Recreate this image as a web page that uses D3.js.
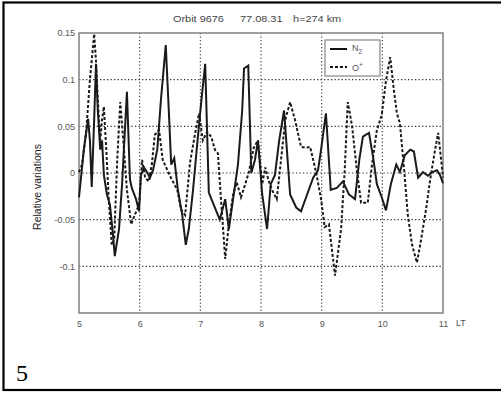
<!DOCTYPE html>
<html>
<head>
<meta charset="utf-8">
<script src="https://cdn.jsdelivr.net/npm/d3@7"></script>
<style>
  body { margin: 0; background: #fff; }
  svg { display: block; }
  .tick text { font-family: "Liberation Sans", Arial, sans-serif; fill: #555; }
</style>
</head>
<body>
<div id="chart"></div>
<script>
// data
const n2LT = [5.00,5.08,5.15,5.18,5.21,5.25,5.28,5.31,5.35,5.38,5.41,5.46,5.51,5.56,5.59,5.66,5.71,5.74,5.79,5.84,
  5.87,5.94,5.99,6.02,6.07,6.12,6.17,6.22,6.29,6.35,6.43,6.48,6.52,6.57,6.63,6.70,6.76,6.81,6.88,6.94,
  7.01,7.08,7.14,7.24,7.32,7.41,7.47,7.54,7.62,7.69,7.72,7.79,7.84,7.90,7.95,8.02,8.10,8.16,8.23,8.30,
  8.38,8.48,8.58,8.66,8.76,8.86,8.94,8.99,9.07,9.15,9.25,9.35,9.45,9.55,9.62,9.68,9.78,9.85,9.91,9.99,
  10.06,10.14,10.23,10.29,10.37,10.46,10.52,10.59,10.67,10.75,10.83,10.90,10.95,11.00];
const n2Val = [-0.026,0.025,0.058,0.035,-0.015,0.057,0.117,0.067,0.025,0.035,-0.002,-0.023,-0.034,-0.066,-0.089,-0.060,-0.012,0.025,0.087,-0.007,
  -0.016,-0.028,-0.041,-0.002,0.006,0.001,-0.005,0.003,0.025,0.078,0.137,0.067,0.009,0.016,-0.018,-0.044,-0.077,-0.060,-0.018,0.025,
  0.073,0.117,-0.021,-0.037,-0.050,-0.028,-0.060,-0.028,0.009,0.067,0.112,0.115,0.000,0.014,0.035,-0.023,-0.060,-0.012,-0.002,0.035,
  0.067,-0.023,-0.037,-0.041,-0.023,-0.005,0.003,0.025,0.064,-0.018,-0.016,-0.009,-0.023,-0.028,0.014,0.039,0.043,0.016,-0.012,-0.026,
  -0.040,-0.012,0.009,0.001,0.019,0.025,0.023,-0.005,0.001,-0.003,0.001,0.003,-0.002,-0.011];

const opLT = [5.00,5.05,5.12,5.18,5.25,5.28,5.31,5.35,5.38,5.41,5.45,5.49,5.54,5.58,5.63,5.68,5.73,5.79,5.86,5.92,
  5.99,6.04,6.09,6.15,6.20,6.25,6.32,6.38,6.45,6.53,6.62,6.68,6.75,6.83,6.91,6.98,7.04,7.11,7.18,7.24,
  7.29,7.34,7.41,7.47,7.54,7.60,7.67,7.74,7.80,7.88,7.95,8.02,8.07,8.12,8.18,8.26,8.33,8.40,8.48,8.56,
  8.66,8.74,8.81,8.91,8.99,9.05,9.12,9.22,9.32,9.38,9.43,9.50,9.58,9.65,9.76,9.83,9.91,9.99,10.06,10.13,
  10.19,10.24,10.29,10.36,10.42,10.49,10.57,10.64,10.72,10.80,10.87,10.92,10.97,11.00];
const opVal = [0.001,0.009,0.046,0.100,0.149,0.120,0.078,0.035,0.057,0.071,0.025,-0.028,-0.077,-0.071,0.014,0.076,0.035,-0.018,-0.055,-0.045,
  -0.034,0.014,-0.005,-0.009,0.009,0.041,0.046,0.014,0.004,-0.007,-0.018,-0.039,-0.045,0.011,0.041,0.064,0.035,0.044,0.039,0.025,
  0.021,-0.028,-0.092,-0.055,-0.023,-0.010,-0.026,-0.012,0.001,0.027,0.035,-0.012,0.006,-0.007,-0.018,-0.028,0.014,0.057,0.076,0.057,
  0.028,0.027,0.028,0.000,-0.028,-0.058,-0.055,-0.110,-0.060,0.003,0.076,0.051,0.003,-0.032,-0.032,0.009,0.046,0.062,0.099,0.124,
  0.089,0.064,0.053,0.003,-0.045,-0.077,-0.096,-0.071,-0.039,-0.002,0.025,0.043,0.014,-0.005];

const xTicks = [5, 6, 7, 8, 9, 10, 11];
const yTicks = [0.15, 0.1, 0.05, 0, -0.05, -0.1];
const title = ["Orbit 9676", "77.08.31", "h=274 km"];

const W = 501, H = 393;
const margin = { left: 79, right: 443, top: 33, bottom: 313 };

const svg = d3.select('#chart').append('svg')
  .attr('width', W).attr('height', H);

svg.append('rect').attr('width', W).attr('height', H).attr('fill', '#fff');

// outer frame (right edge runs off the picture)
svg.append('rect')
  .attr('x', 3.5).attr('y', 2.5).attr('width', 510).attr('height', 387.5)
  .attr('fill', 'none').attr('stroke', '#000').attr('stroke-width', 2.2);

const x = d3.scaleLinear().domain([5, 11]).range([margin.left, margin.right]);
const y = d3.scaleLinear().domain([-0.15, 0.15]).range([margin.bottom, margin.top]);

// grid
const grid = svg.append('g');
grid.selectAll('.vg').data(xTicks.slice(1, -1)).enter().append('line')
  .attr('x1', d => x(d)).attr('x2', d => x(d))
  .attr('y1', margin.top).attr('y2', margin.bottom);
grid.selectAll('.hg').data(yTicks.filter(d => d < 0.15)).enter().append('line')
  .attr('x1', margin.left).attr('x2', margin.right)
  .attr('y1', d => y(d)).attr('y2', d => y(d));
grid.selectAll('line')
  .attr('stroke', '#333').attr('stroke-width', 1.1)
  .attr('stroke-dasharray', '1.3,2.2');

// axes
const xAxis = svg.append('g')
  .attr('transform', `translate(0,${margin.bottom})`)
  .call(d3.axisBottom(x).tickValues(xTicks).tickSize(0).tickPadding(8).tickFormat(d => d));
const yAxis = svg.append('g')
  .attr('transform', `translate(${margin.left},0)`)
  .call(d3.axisLeft(y).tickValues(yTicks).tickSize(0).tickPadding(4).tickFormat(d => String(d)));
[xAxis, yAxis].forEach(a => {
  a.select('.domain').remove();
  a.selectAll('text').attr('font-size', 9);
});

// plot frame
svg.append('rect')
  .attr('x', margin.left).attr('y', margin.top)
  .attr('width', margin.right - margin.left).attr('height', margin.bottom - margin.top)
  .attr('fill', 'none').attr('stroke', '#888').attr('stroke-width', 1.6);

// series
const line = d3.line().x(d => x(d[0])).y(d => y(d[1]));
const n2 = n2LT.map((t, i) => [t, n2Val[i]]);
const op = opLT.map((t, i) => [t, opVal[i]]);

svg.append('path').datum(op).attr('d', line)
  .attr('fill', 'none').attr('stroke', '#1a1a1a').attr('stroke-width', 2)
  .attr('stroke-dasharray', '3,2');
svg.append('path').datum(n2).attr('d', line)
  .attr('fill', 'none').attr('stroke', '#1a1a1a').attr('stroke-width', 2);

// title
const tx = [173, 240, 293];
title.forEach((s, i) => {
  svg.append('text')
    .attr('transform', `translate(${tx[i]},22) scale(1.15,1)`)
    .attr('font-family', 'Liberation Sans, Arial, sans-serif')
    .attr('font-size', 9.5).attr('fill', '#444')
    .text(s);
});

// y label
svg.append('text')
  .attr('transform', `translate(41,187) rotate(-90)`)
  .attr('text-anchor', 'middle')
  .attr('font-family', 'Liberation Sans, Arial, sans-serif')
  .attr('font-size', 10.5).attr('fill', '#222')
  .text('Relative variations');

// LT
svg.append('text')
  .attr('x', 456).attr('y', 326)
  .attr('font-family', 'Liberation Sans, Arial, sans-serif')
  .attr('font-size', 9).attr('fill', '#555')
  .text('LT');

// legend
const lg = svg.append('g');
lg.append('rect').attr('x', 325).attr('y', 40).attr('width', 55).attr('height', 36)
  .attr('fill', '#fff').attr('stroke', '#888').attr('stroke-width', 1.2);
lg.append('line').attr('x1', 330).attr('x2', 347).attr('y1', 49).attr('y2', 49)
  .attr('stroke', '#111').attr('stroke-width', 2);
lg.append('line').attr('x1', 330).attr('x2', 347).attr('y1', 67).attr('y2', 67)
  .attr('stroke', '#111').attr('stroke-width', 2).attr('stroke-dasharray', '3,2');
const l1 = lg.append('text').attr('x', 352).attr('y', 51)
  .attr('font-family', 'Liberation Sans, Arial, sans-serif').attr('font-size', 9).attr('fill', '#556');
l1.append('tspan').text('N');
l1.append('tspan').attr('dy', 3).attr('font-size', 6.5).text('2');
const l2 = lg.append('text').attr('x', 352).attr('y', 71)
  .attr('font-family', 'Liberation Sans, Arial, sans-serif').attr('font-size', 9).attr('fill', '#556');
l2.append('tspan').text('O');
l2.append('tspan').attr('dy', -4).attr('font-size', 6.5).text('+');

// panel number
svg.append('text')
  .attr('x', 16).attr('y', 381)
  .attr('font-family', 'Liberation Serif, Times New Roman, serif')
  .attr('font-size', 24).attr('fill', '#000')
  .text('5');
</script>
</body>
</html>
